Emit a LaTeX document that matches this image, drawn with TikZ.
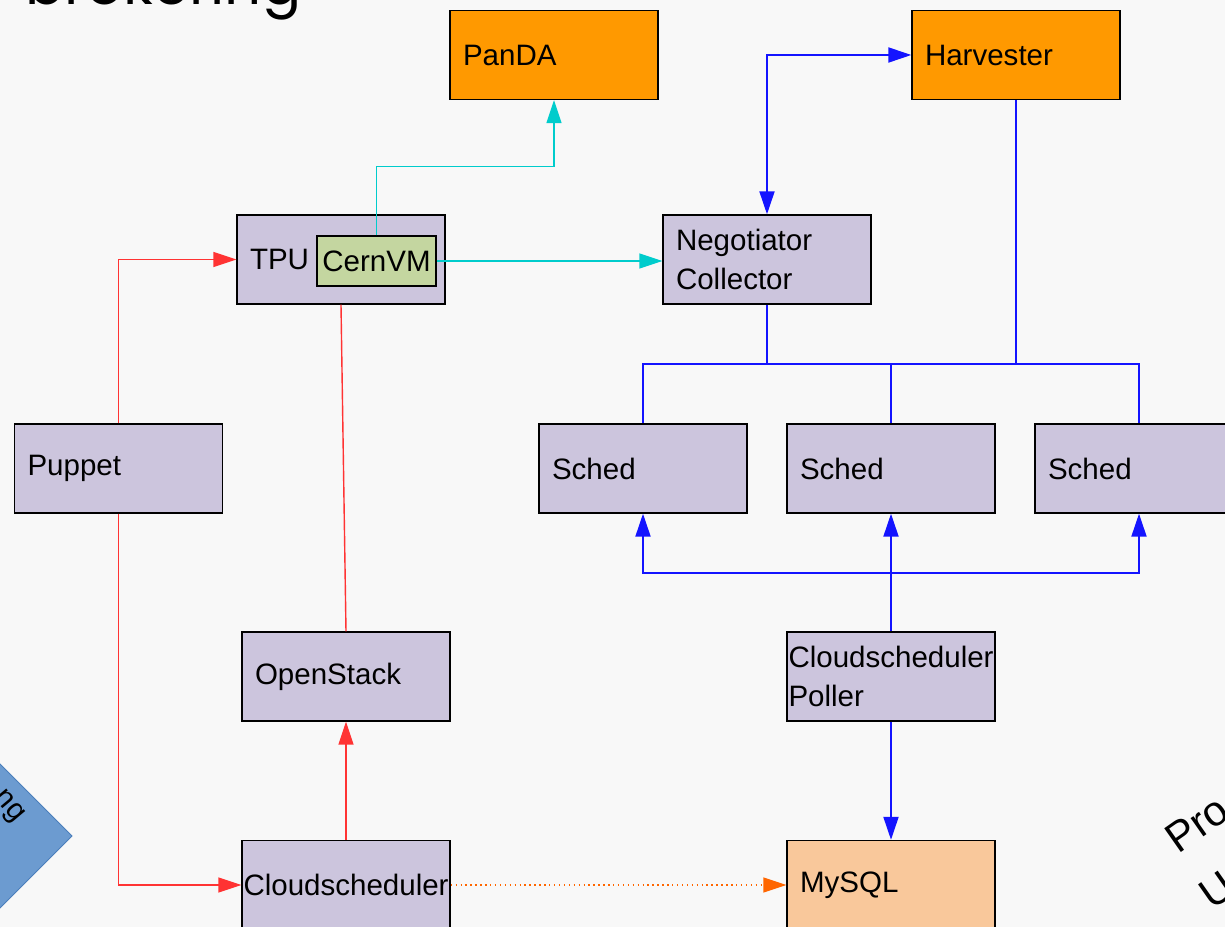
\documentclass[tikz,border=0pt]{standalone}
\usepackage{fontspec}
\setmainfont{Liberation Sans}
\newfontfamily\titlefont{Poppins}
\usetikzlibrary{
  arrows.meta,
  positioning
}
\definecolor{bglight}{RGB}{248,248,248}
\definecolor{boxlilac}{RGB}{204,197,221}
\definecolor{boxorange}{RGB}{255,153,0}
\definecolor{boxpeach}{RGB}{249,200,155}
\definecolor{vmgreen}{RGB}{196,214,160}
\definecolor{linered}{RGB}{255,51,51}
\definecolor{lineblue}{RGB}{20,20,255}
\definecolor{linecyan}{RGB}{0,204,204}
\definecolor{linedot}{RGB}{255,102,0}
\definecolor{diamondblue}{RGB}{108,155,208}
\definecolor{diamondedge}{RGB}{74,126,187}

\begin{document}
\begin{tikzpicture}[x=0.02cm,y=0.02cm,
    box/.style={draw=black,line width=0.8pt,fill=boxlilac,minimum width=4.16cm,
      minimum height=1.78cm,text width=3.64cm,inner xsep=0.26cm,inner ysep=0pt,
      align=left,font=\fontsize{16.8}{22}\selectfont},
    tight/.style={text width=4.1cm,inner xsep=0.03cm},
    tip/.style={-{Triangle[length=0.46cm,width=0.3cm]}},
    redline/.style={draw=linered,line width=0.8pt},
    blueline/.style={draw=lineblue,line width=1.1pt},
    cyanline/.style={draw=linecyan,line width=0.8pt}]
    %initialisation
    \useasboundingbox (0,0) rectangle (1225,927);
    \clip (0,0) rectangle (1225,927);
    \fill[bglight] (0,0) rectangle (1225,927);
    %slide fragments
    \node[anchor=base west,inner sep=0pt,font=\titlefont\fontsize{33}{33}\selectfont] (title) at (25,922) {brokering};
    \draw[fill=diamondblue,draw=diamondedge,line width=0.5pt] (72,91) -- (-80,243) -- (-232,91) -- (-80,-61) -- cycle;
    \node[rotate=-50,inner sep=0pt,font=\fontsize{16.8}{22}\selectfont] (diamondtext) at (8,120) {ng};
    \node[rotate=35,anchor=base west,inner sep=0pt,font=\fontsize{24}{30}\selectfont] (protext) at (1178,72) {Pro};
    \node[rotate=35,anchor=base west,inner sep=0pt,font=\fontsize{24}{30}\selectfont] (utext) at (1212,16) {U};
    %boxes
    \node[box,fill=boxorange] (panda) at (554,872) {PanDA};
    \node[box,fill=boxorange] (harvester) at (1016,872) {Harvester};
    \node[box] (tpu) at (341,667.5) {TPU};
    \node[draw=black,line width=0.8pt,fill=vmgreen,minimum width=2.38cm,minimum height=1.0cm,
      inner sep=0pt,font=\fontsize{16.8}{22}\selectfont] (cernvm) at (376.5,666) {CernVM};
    \node[box] (negotiator) at (767,667.5) {Negotiator\\Collector};
    \node[box] (puppet) at (118.5,458.5) {Puppet};
    \node[box] (schedA) at (643,458.5) {Sched};
    \node[box] (schedB) at (891,458.5) {Sched};
    \node[box] (schedC) at (1139,458.5) {Sched};
    \node[box] (openstack) at (346,250.5) {OpenStack};
    \node[box,tight] (poller) at (891,250.5) {Cloudscheduler\\Poller};
    \node[box,tight] (cloudsched) at (346,42) {Cloudscheduler};
    \node[box,fill=boxpeach] (mysql) at (891,42) {MySQL};
    \coordinate (join) at (767,563);
    \coordinate (split) at (891,354);
    %connections
    \draw[cyanline,tip] (cernvm.north) -- ++(0,69) -| (panda.south);
    \draw[cyanline,tip] (cernvm.east) -- (negotiator.west |- cernvm.east);
    \draw[blueline,{Triangle[length=0.46cm,width=0.3cm]}-{Triangle[length=0.46cm,width=0.3cm]}] (negotiator.north) |- (harvester.west);
    \draw[blueline] (negotiator.south) -- (join);
    \draw[blueline] (harvester.south) -- (harvester.south |- join);
    \draw[blueline] (schedA.north) |- (join) -| (schedC.north);
    \draw[blueline] (schedB.north) -- (schedB.north |- join);
    \draw[blueline,tip] (poller.north) -- (schedB.south);
    \draw[blueline,tip] (split) -| (schedA.south);
    \draw[blueline,tip] (split) -| (schedC.south);
    \draw[blueline,tip] (poller.south) -- (mysql.north);
    \draw[redline,tip] (puppet.north) |- (tpu.west);
    \draw[redline,tip] (puppet.south) |- (cloudsched.west);
    \draw[redline] (tpu.south) -- (openstack.north);
    \draw[redline,tip] (cloudsched.north) -- (openstack.south);
    \draw[draw=linedot,line width=0.8pt,dotted,tip] (cloudsched.east) -- (mysql.west);
\end{tikzpicture}
\end{document}
